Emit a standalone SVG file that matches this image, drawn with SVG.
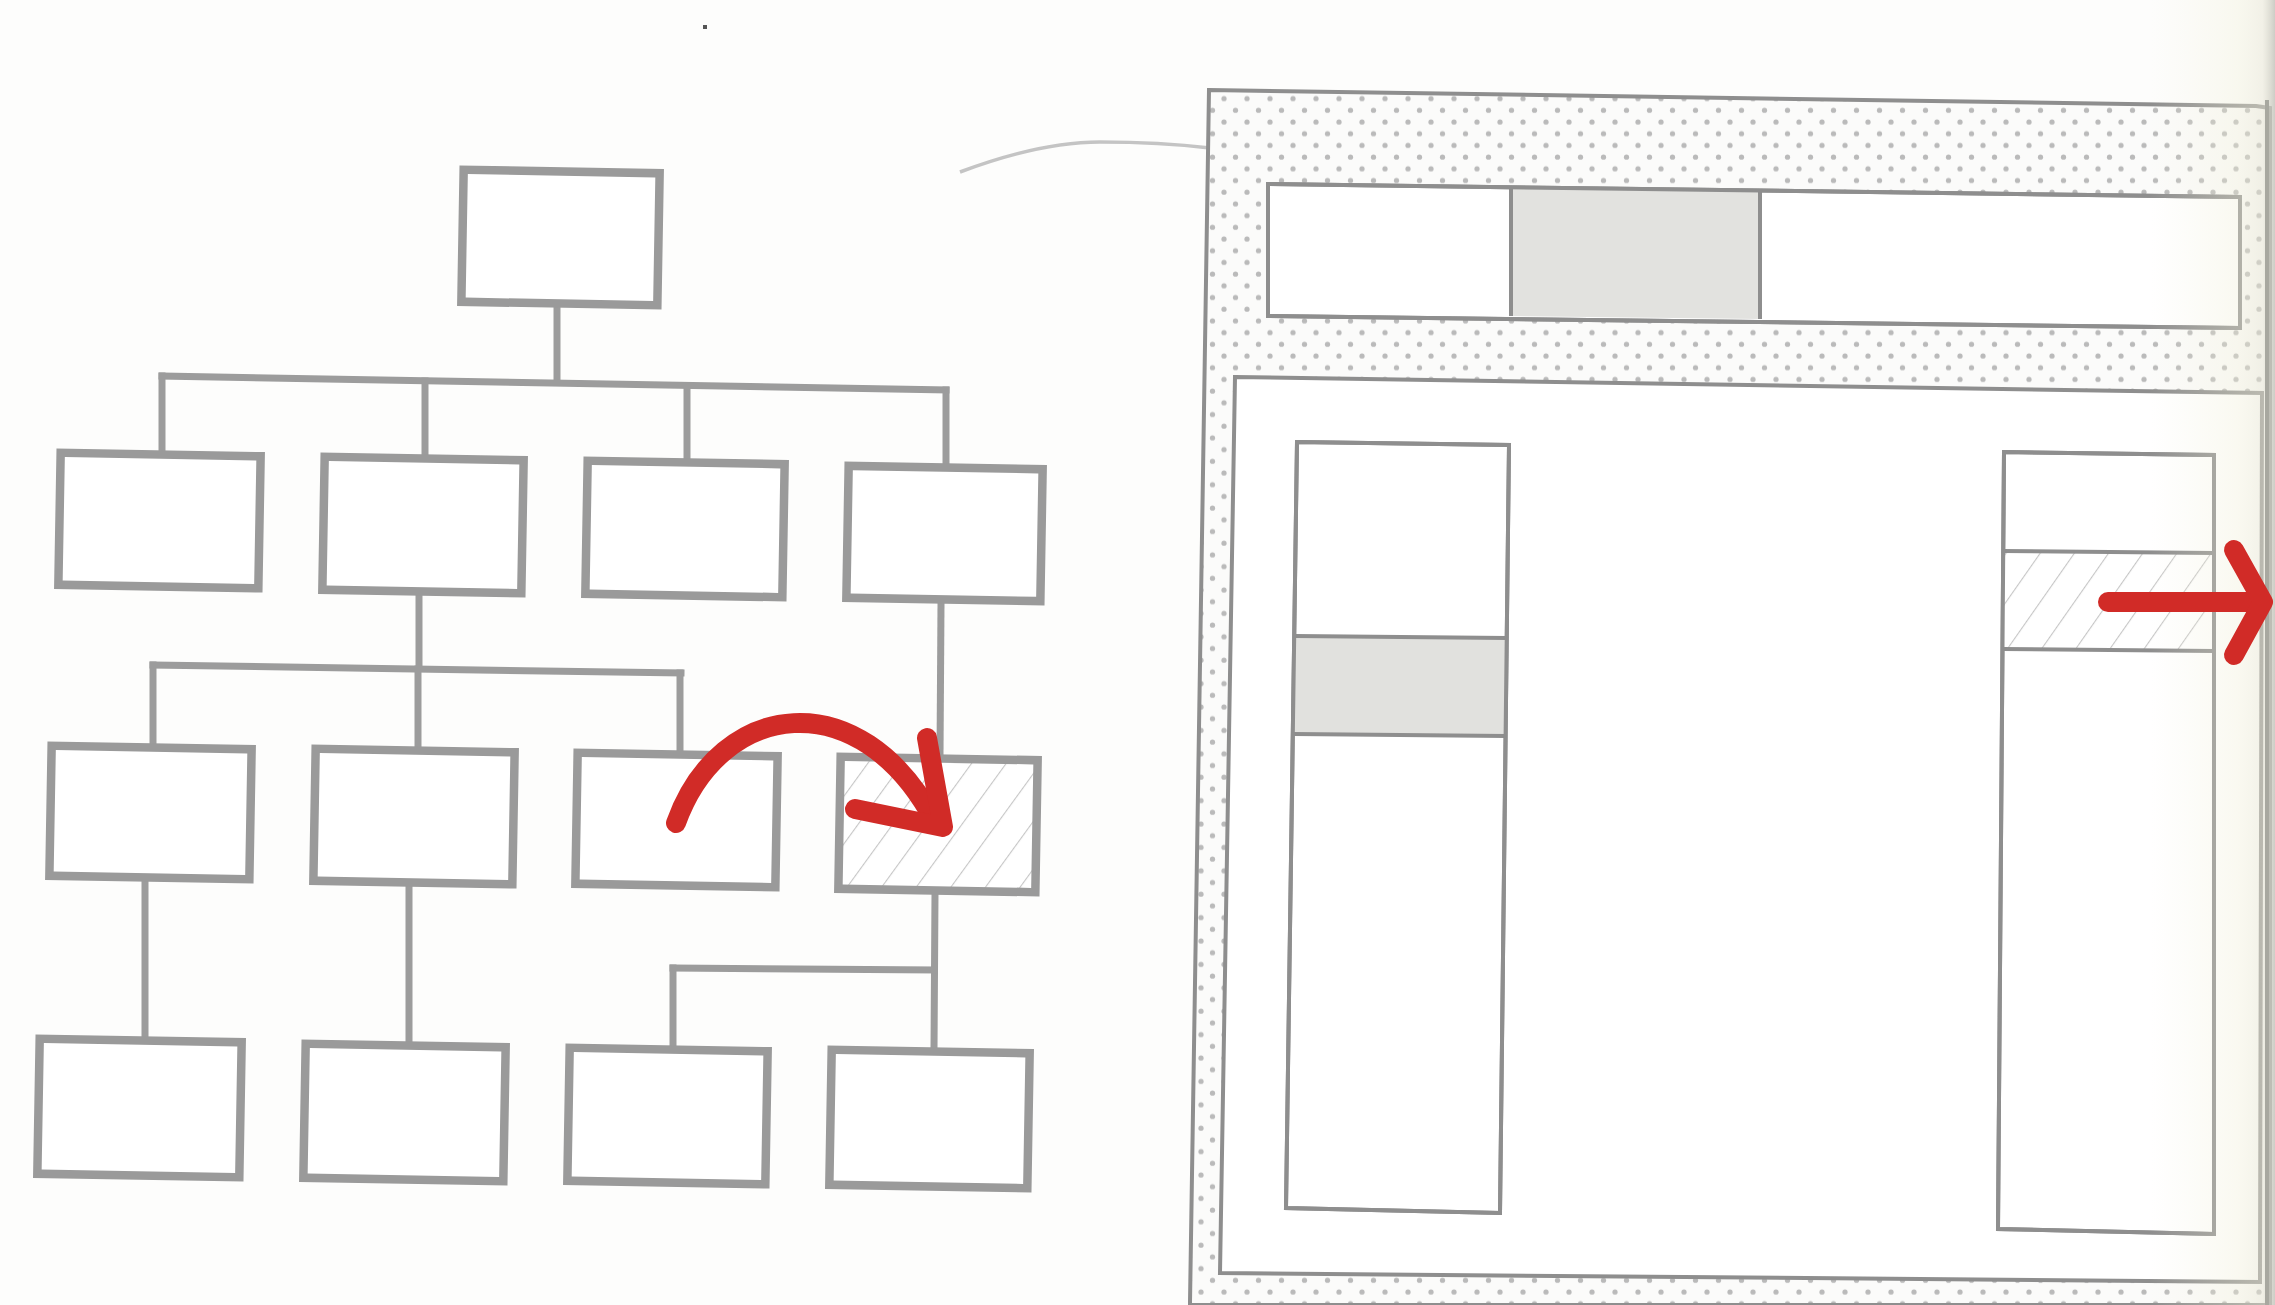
<svg xmlns="http://www.w3.org/2000/svg" width="2275" height="1305" viewBox="0 0 2275 1305">
<defs>
<style>
.box{fill:#ffffff;stroke:#9a9a9a;stroke-width:8.5}
.hbox{fill:url(#hatch);stroke:#9a9a9a;stroke-width:8.5}
.conn{fill:none;stroke:#9c9c9c;stroke-width:7;stroke-linecap:square}
.thin{stroke:#8e8e8e;stroke-width:4;stroke-linejoin:miter}
.red{fill:none;stroke:#d12b27;stroke-width:20;stroke-linecap:round;stroke-linejoin:round}
</style>
<pattern id="hatch" patternUnits="userSpaceOnUse" width="28" height="28" patternTransform="rotate(35)">
<rect width="28" height="28" fill="#ffffff"/>
<line x1="0" y1="0" x2="0" y2="28" stroke="#c6c6c6" stroke-width="2.2"/>
</pattern>
<pattern id="dots" patternUnits="userSpaceOnUse" width="23" height="23.4">
<rect width="23" height="23.4" fill="#fbfbfa"/>
<circle cx="5" cy="5" r="2.6" fill="#bababa"/>
<circle cx="16.5" cy="16.7" r="2.6" fill="#bababa"/>
</pattern>
<linearGradient id="curl" x1="0" y1="0" x2="1" y2="0">
<stop offset="0" stop-color="#f3f1dc" stop-opacity="0"/>
<stop offset="0.7" stop-color="#f0eed6" stop-opacity="0.35"/>
<stop offset="0.9" stop-color="#e6e4d2" stop-opacity="0.5"/>
<stop offset="1" stop-color="#c4c4bc" stop-opacity="0.85"/>
</linearGradient>
</defs>
<rect x="0" y="0" width="2275" height="1305" fill="#fdfdfc"/>
<rect x="703" y="25" width="4" height="4" fill="#555"/>
<path d="M960 172 Q1040 142 1100 142 T1210 148" fill="none" stroke="#c4c4c4" stroke-width="3.5"/>

<g id="connectors">
<polyline class="conn" points="557,308 557,382"/>
<polyline class="conn" points="162,376 946,390"/>
<polyline class="conn" points="162,376 162,452"/>
<polyline class="conn" points="425,381 425,456"/>
<polyline class="conn" points="687,386 687,460"/>
<polyline class="conn" points="946,390 946,465"/>
<polyline class="conn" points="419,596 419,668"/>
<polyline class="conn" points="153,665 681,673"/>
<polyline class="conn" points="153,665 153,745"/>
<polyline class="conn" points="418,669 418,748"/>
<polyline class="conn" points="680,673 680,752"/>
<polyline class="conn" points="941,604 940,756"/>
<polyline class="conn" points="145,882 145,1038"/>
<polyline class="conn" points="409,887 409,1043"/>
<polyline class="conn" points="935,894 934,1049"/>
<polyline class="conn" points="673,968 934,970"/>
<polyline class="conn" points="673,968 673,1047"/>
</g>

<g id="n-top"><rect class="box" x="462.5" y="171.5" width="196" height="132" transform="rotate(1 560.5 237.5)"/></g>
<g id="n-a"><rect class="box" x="59.5" y="454.5" width="200" height="132" transform="rotate(1 159.5 520.5)"/></g>
<g id="n-b"><rect class="box" x="323.5" y="458.5" width="199" height="133" transform="rotate(1 423 525)"/></g>
<g id="n-c"><rect class="box" x="586.5" y="462.5" width="197" height="133" transform="rotate(1 685 529)"/></g>
<g id="n-d"><rect class="box" x="847.5" y="467.5" width="194" height="132" transform="rotate(1 944.5 533.5)"/></g>
<g id="n-e"><rect class="box" x="50.5" y="747.5" width="200" height="130" transform="rotate(1 150.5 812.5)"/></g>
<g id="n-f"><rect class="box" x="314.5" y="750.5" width="199" height="132" transform="rotate(1 414 816.5)"/></g>
<g id="n-g"><rect class="box" x="576.5" y="754.5" width="200" height="131" transform="rotate(1 676.5 820)"/></g>
<g id="n-h"><rect class="hbox" x="839.5" y="758.5" width="197" height="132" transform="rotate(1 938 824.5)"/></g>
<g id="n-i"><rect class="box" x="38.5" y="1040.5" width="202" height="135" transform="rotate(1 139.5 1108)"/></g>
<g id="n-j"><rect class="box" x="304.5" y="1045.5" width="200" height="134" transform="rotate(1 404.5 1112.5)"/></g>
<g id="n-k"><rect class="box" x="568.5" y="1049.5" width="198" height="133" transform="rotate(1 667.5 1116)"/></g>
<g id="n-l"><rect class="box" x="830.5" y="1051.5" width="198" height="135" transform="rotate(1 929.5 1119)"/></g>

<g id="arrow-left">
<path class="red" d="M676 823 C720 700 860 680 935 822"/>
<polyline class="red" points="927,738 943,827 855,809"/>
</g>

<g id="panel">
<polygon class="thin" points="1209,90 2256,106 2270,108 2270,1305 1190,1305 1190,1302" fill="url(#dots)"/>
<g id="topbar">
<polygon class="thin" points="1268,184 2240,197 2240,328 1268,316" fill="#ffffff"/>
<polygon points="1511,187 1760,190 1760,319 1511,316" fill="#e2e2df"/>
<line class="thin" x1="1511" y1="187" x2="1511" y2="316"/>
<line class="thin" x1="1760" y1="190" x2="1760" y2="319"/>
<polygon class="thin" points="1268,184 2240,197 2240,328 1268,316" fill="none"/>
</g>
<polygon id="inner" class="thin" points="1235,377 2262,393 2260,1282 1220,1273" fill="#ffffff"/>
<g id="col-left">
<polygon class="thin" points="1297,442 1509,445 1500,1213 1286,1208" fill="#ffffff"/>
<polygon points="1295,636 1507,638 1506,735 1294,733" fill="#e1e1de"/>
<line class="thin" x1="1295" y1="636" x2="1507" y2="638"/>
<line class="thin" x1="1294" y1="734" x2="1506" y2="736"/>
<polygon class="thin" points="1297,442 1509,445 1500,1213 1286,1208" fill="none"/>
</g>
<g id="col-right">
<polygon class="thin" points="2004,452 2214,455 2214,1234 1998,1229" fill="#ffffff"/>
<polygon points="2003,551 2214,553 2214,650 2003,649" fill="url(#hatch)"/>
<line class="thin" x1="2003" y1="551" x2="2214" y2="553"/>
<line class="thin" x1="2003" y1="649" x2="2214" y2="651"/>
<polygon class="thin" points="2004,452 2214,455 2214,1234 1998,1229" fill="none"/>
</g>
</g>

<rect x="2150" y="0" width="125" height="1305" fill="url(#curl)"/>
<line x1="2267" y1="100" x2="2267" y2="1305" stroke="#a8a8a0" stroke-width="4"/>

<g id="arrow-right">
<line class="red" x1="2108" y1="602" x2="2258" y2="602"/>
<polyline class="red" points="2234,550 2263,602 2234,655"/>
</g>
</svg>
